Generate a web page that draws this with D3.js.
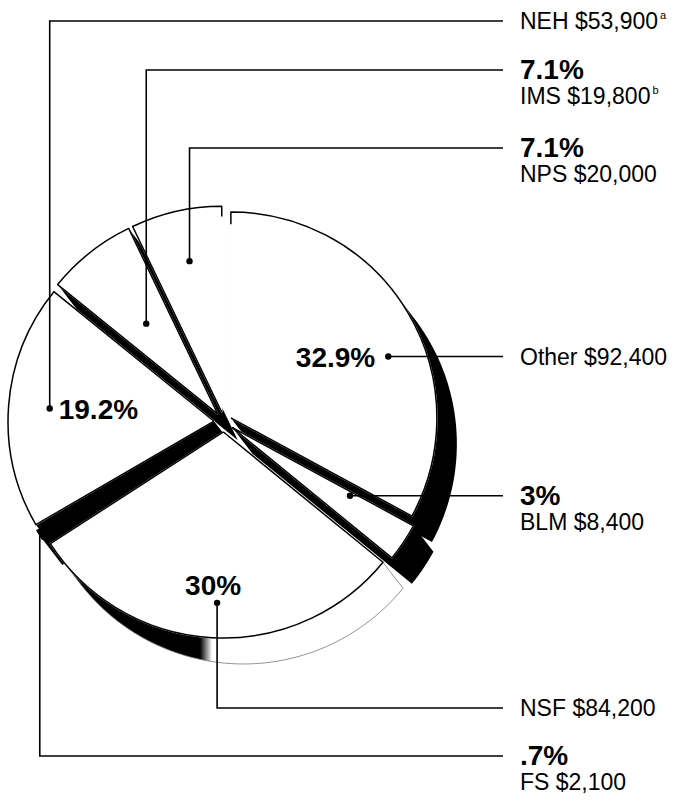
<!DOCTYPE html>
<html>
<head>
<meta charset="utf-8">
<script src="https://cdn.jsdelivr.net/npm/d3@7"></script>
<style>
  body { margin: 0; background: #fff; }
  text { font-family: "Liberation Sans", Arial, Helvetica, sans-serif; fill: #000; }
</style>
</head>
<body>
<div id="chart"></div>
<script>
// slices, clockwise from 12 o'clock
var agencies = ["Other", "BLM", "NSF", "FS", "NEH", "IMS", "NPS"];
var amounts = [92400, 8400, 84200, 2100, 53900, 19800, 20000];
var shareLabels = ["32.9%", "3%", "30%", ".7%", "19.2%", "7.1%", "7.1%"];
var footnotes = ["", "", "", "", "a", "b", ""];

var width = 675, height = 800;
var cx = 224, cy = 422, radius = 206, explode = 10;
var depth = [20, 26]; // oblique extrusion of the pie
var labelX = 520, lineEndX = 503;

// where each leader starts (fraction of slice angle, fraction of radius) and runs
var leaders = {
  Other: { t: 0.58, rf: 0.82, pct: "left" },
  BLM:   { t: 0.15, rf: 0.66, pct: "right" },
  NSF:   { t: 0.49, rf: 0.83, lineY: 708, pct: "above" },
  FS:    { t: 0.5,  rf: 1.0,  lineY: 756, pct: "right", noDot: true },
  NEH:   { t: 0.5,  rf: 0.8,  lineY: 21,  pct: "after" },
  IMS:   { t: 0.5,  rf: 0.56, lineY: 70,  pct: "right" },
  NPS:   { t: 0.53, rf: 0.75, lineY: 148, pct: "right" }
};
// startEdge / endEdge: share of the radial edge that is outlined (from the rim)
var sliceStyle = {
  Other: { explode: 8, startEdge: 0.06 },
  FS:  { top: "#000" },
  NSF: { side: "url(#nsfSide)", sideStroke: "#777" },
  NPS: { side: "none", endEdge: 0.05 }
};

var slices = d3.pie().sort(null).value(function(d) { return d.amount; })(
  agencies.map(function(a, i) {
    return { name: a, amount: amounts[i], share: shareLabels[i], note: footnotes[i] };
  })
);

var svg = d3.select("#chart").append("svg")
  .attr("width", width).attr("height", height);

var grad = svg.append("defs").append("linearGradient")
  .attr("id", "nsfSide").attr("gradientUnits", "userSpaceOnUse")
  .attr("x1", 0).attr("x2", width).attr("y1", 0).attr("y2", 0);
grad.append("stop").attr("offset", 200 / width).attr("stop-color", "#000");
grad.append("stop").attr("offset", 212 / width).attr("stop-color", "#fff");

function polar(c, a, r) {
  return [c[0] + r * Math.sin(a), c[1] - r * Math.cos(a)];
}
function style(s, key, fallback) {
  var st = sliceStyle[s.data.name] || {};
  return st[key] != null ? st[key] : fallback;
}

slices.forEach(function(s) {
  var mid = (s.startAngle + s.endAngle) / 2;
  s.center = polar([cx, cy], mid, style(s, "explode", explode));
});

// side walls first
svg.append("g").selectAll("path")
  .data(slices)
  .enter().append("path")
  .attr("d", function(s) {
    var pts = [s.center];
    for (var k = 0; k <= 60; k++) {
      pts.push(polar(s.center, s.startAngle + (s.endAngle - s.startAngle) * k / 60, radius));
    }
    var all = pts.concat(pts.map(function(p) { return [p[0] + depth[0], p[1] + depth[1]]; }));
    return "M" + d3.polygonHull(all).join("L") + "Z";
  })
  .attr("fill", function(s) { return style(s, "side", "#000"); })
  .attr("stroke", function(s) { return style(s, "sideStroke", "none"); })
  .attr("stroke-width", 0.8);

// top faces (stroked in their own colour so no seam shows)
var arc = d3.arc().innerRadius(0).outerRadius(radius);
svg.append("g").selectAll("path")
  .data(slices)
  .enter().append("path")
  .attr("transform", function(s) { return "translate(" + s.center + ")"; })
  .attr("d", arc)
  .attr("fill", function(s) { return style(s, "top", "#fff"); })
  .attr("stroke", function(s) { return style(s, "top", "#fff"); })
  .attr("stroke-width", 1.5);

// top outlines
svg.append("g").selectAll("path")
  .data(slices)
  .enter().append("path")
  .attr("d", function(s) {
    var fs = style(s, "startEdge", 1), fe = style(s, "endEdge", 1);
    var a = polar(s.center, s.startAngle, radius * (1 - fs));
    var b = polar(s.center, s.startAngle, radius);
    var c = polar(s.center, s.endAngle, radius);
    var e = polar(s.center, s.endAngle, radius * (1 - fe));
    var large = s.endAngle - s.startAngle > Math.PI ? 1 : 0;
    return "M" + a + "L" + b + "A" + radius + "," + radius + " 0 " + large + " 1 " + c + "L" + e;
  })
  .attr("fill", "none")
  .attr("stroke", "#000")
  .attr("stroke-width", 1.5)
  .attr("stroke-linejoin", "round");

// leaders and labels
var lab = svg.append("g");
slices.forEach(function(s) {
  var L = leaders[s.data.name];
  var p = polar(s.center, s.startAngle + (s.endAngle - s.startAngle) * L.t, radius * L.rf);
  var lineY = L.lineY != null ? L.lineY : p[1];
  var path = L.lineY != null
    ? "M" + p + "L" + p[0] + "," + lineY + "L" + lineEndX + "," + lineY
    : "M" + p + "L" + lineEndX + "," + lineY;
  lab.append("path").attr("d", path)
    .attr("fill", "none").attr("stroke", "#000").attr("stroke-width", 1.6);
  if (!L.noDot) lab.append("circle").attr("cx", p[0]).attr("cy", p[1]).attr("r", 3.2);

  var nameY = lineY + 8;
  if (L.pct === "right") {
    lab.append("text").attr("x", labelX).attr("y", lineY + 9)
      .attr("font-size", 28).attr("font-weight", "bold").text(s.data.share);
    nameY = lineY + 34;
  } else if (L.pct === "left") {
    lab.append("text").attr("x", p[0] - 13).attr("y", p[1] + 10)
      .attr("text-anchor", "end").attr("font-size", 28).attr("font-weight", "bold")
      .text(s.data.share);
  } else if (L.pct === "after") {
    lab.append("text").attr("x", p[0] + 9).attr("y", p[1] + 10)
      .attr("font-size", 28).attr("font-weight", "bold").text(s.data.share);
  } else if (L.pct === "above") {
    lab.append("text").attr("x", p[0] - 4).attr("y", p[1] - 8)
      .attr("text-anchor", "middle").attr("font-size", 28).attr("font-weight", "bold")
      .text(s.data.share);
  }
  var t = lab.append("text").attr("x", labelX).attr("y", nameY).attr("font-size", 23)
    .text(s.data.name + " $" + d3.format(",")(s.data.amount));
  if (s.data.note) {
    t.append("tspan").attr("dx", 2).attr("dy", -10).attr("font-size", 11).text(s.data.note);
  }
});
</script>
</body>
</html>
